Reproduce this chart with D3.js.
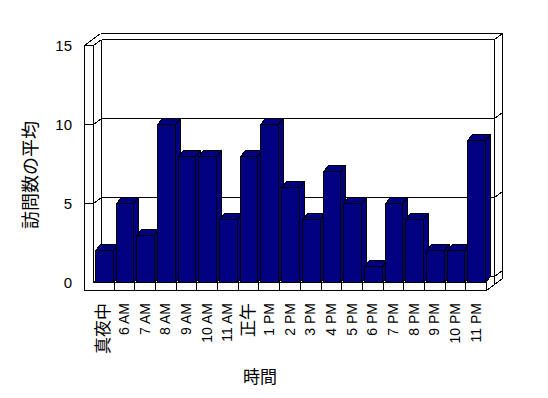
<!DOCTYPE html>
<html>
<head>
<meta charset="utf-8">
<script src="https://cdn.jsdelivr.net/npm/d3@7"></script>
<style>
  body { margin: 0; background: #fff; }
  text { fill: #000; }
</style>
</head>
<body>
<svg id="chart" width="548" height="398"></svg>
<script>
/* global d3 */

var categories = ['真夜中', '6 AM', '7 AM', '8 AM', '9 AM', '10 AM', '11 AM', '正午',
                  '1 PM', '2 PM', '3 PM', '4 PM', '5 PM', '6 PM', '7 PM', '8 PM',
                  '9 PM', '10 PM', '11 PM'];
var visits     = [2, 5, 3, 10, 8, 8, 4, 8, 10, 6, 4, 7, 5, 1, 5, 4, 2, 2, 9];
var yTicks     = [0, 5, 10, 15];
var yTitle     = '訪問数の平均';
var xTitle     = '時間';

var svg = d3.select('svg#chart');

var x = d3.scaleBand().domain(categories).range([93, 486]);
var y = d3.scaleLinear().domain([0, 15]).range([282, 45]);

// one unit of depth in screen space (front plane -> back wall)
var DX = 8, DY = -6;
// bar depth
var BDX = 5, BDY = -6;
var WALL = 8;

var xL = x.range()[0], xR = x.range()[1];
var yB = y(0), yT = y(15);
var xO = xL - WALL - 1, yO = yB + WALL;

function p(px, py, z) { return [px + DX * z, py + DY * z]; }
function seg(a, b)     { return { a: a, b: b }; }

// frame: left wall, floor, back wall with its thickness
var frame = [
  seg([xO, yT], [xO, yO]),
  seg([xL, yT], [xL, yB]),
  seg([xO, yT], [xL, yT]),
  seg([xO, yO], [xR, yO]),
  seg([xL, yB], [xR, yB]),
  seg([xR, yB], [xR, yO]),
  seg([xO, yT], p(xO, yT, 2)),
  seg(p(xL, yT, 1), p(xL, yB, 1)),
  seg(p(xO, yT, 2), p(xR, yT, 2)),
  seg(p(xR, yT, 1), p(xR, yO, 1)),
  seg(p(xR, yT, 2), p(xR, yO, 2)),
  seg([xR, yO], p(xR, yO, 2))
];

yTicks.forEach(function(t) {
  var ty = y(t);
  frame.push(seg(p(xL, ty, 1), p(xR, ty, 1)));   // back wall gridline
  frame.push(seg([xL, ty], p(xL, ty, 1)));        // left wall
  frame.push(seg(p(xR, ty, 1), p(xR, ty, 2)));   // right edge of back wall
  if (t > 0) frame.push(seg([xO, ty], [xL, ty])); // tick on wall front
});

categories.slice(1).forEach(function(c) {
  frame.push(seg([x(c), yB], [x(c), yO]));
});

var g = svg.append('g')
  .attr('transform', 'translate(0.5,0.5)')
  .attr('shape-rendering', 'crispEdges');

g.append('g').classed('frame', true)
  .selectAll('line').data(frame)
  .enter().append('line')
    .attr('x1', function(d) { return Math.round(d.a[0]); })
    .attr('y1', function(d) { return Math.round(d.a[1]); })
    .attr('x2', function(d) { return Math.round(d.b[0]); })
    .attr('y2', function(d) { return Math.round(d.b[1]); })
    .attr('stroke', '#000')
    .attr('stroke-width', 1);

// bars, drawn left to right so each front face hides the previous side
var bars = g.append('g').classed('bars', true)
  .selectAll('g.bar').data(categories.map(function(c, i) { return { cat: c, v: visits[i] }; }))
  .enter().append('g').classed('bar', true);

function poly(pts) { return 'M' + pts.map(function(q) { return Math.round(q[0]) + ',' + Math.round(q[1]); }).join('L') + 'Z'; }
function barX0(d) { return x(d.cat) + 2; }
function barX1(d) { return x(d.cat) + x.bandwidth() - 1; }

bars.append('path').classed('side', true)
  .attr('d', function(d) {
    var x1 = barX1(d), yt = y(d.v);
    return poly([[x1, yt], [x1 + BDX, yt + BDY], [x1 + BDX, yB + BDY], [x1, yB]]);
  });
bars.append('path').classed('top', true)
  .attr('d', function(d) {
    var x0 = barX0(d), x1 = barX1(d), yt = y(d.v);
    return poly([[x0, yt], [x1, yt], [x1 + BDX, yt + BDY], [x0 + BDX, yt + BDY]]);
  });
bars.append('path').classed('front', true)
  .attr('d', function(d) {
    var x0 = barX0(d), x1 = barX1(d), yt = y(d.v);
    return poly([[x0, yt], [x1, yt], [x1, yB], [x0, yB]]);
  });

bars.selectAll('path')
  .attr('fill', '#000080')
  .attr('stroke', '#000')
  .attr('stroke-width', 1);

// tick labels
svg.append('g').classed('y-labels', true)
  .selectAll('text').data(yTicks)
  .enter().append('text')
    .attr('x', 72)
    .attr('y', function(d) { return y(d); })
    .attr('text-anchor', 'end')
    .attr('dominant-baseline', 'central')
    .style('font', '15px "Liberation Sans", Arial, sans-serif')
    .text(function(d) { return d; });

svg.append('g').classed('x-labels', true)
  .selectAll('text').data(categories)
  .enter().append('text')
    .attr('transform', function(d) {
      return 'translate(' + (x(d) + x.bandwidth() / 2) + ',303) rotate(-90)';
    })
    .attr('text-anchor', 'end')
    .attr('dominant-baseline', 'central')
    .style('font-family', '"Liberation Sans", "Noto Sans CJK JP", sans-serif')
    .style('font-size', function(d) { return /[A-Z]/.test(d) ? '14px' : '17px'; })
    .text(function(d) { return d; });

svg.append('text')
  .attr('transform', 'translate(29,175) rotate(-90)')
  .attr('text-anchor', 'middle')
  .attr('dominant-baseline', 'central')
  .style('font', '18px "Noto Sans CJK JP", sans-serif')
  .text(yTitle);

svg.append('text')
  .attr('x', 260)
  .attr('y', 375)
  .attr('text-anchor', 'middle')
  .attr('dominant-baseline', 'central')
  .style('font', '17px "Noto Sans CJK JP", sans-serif')
  .text(xTitle);
</script>
</body>
</html>
